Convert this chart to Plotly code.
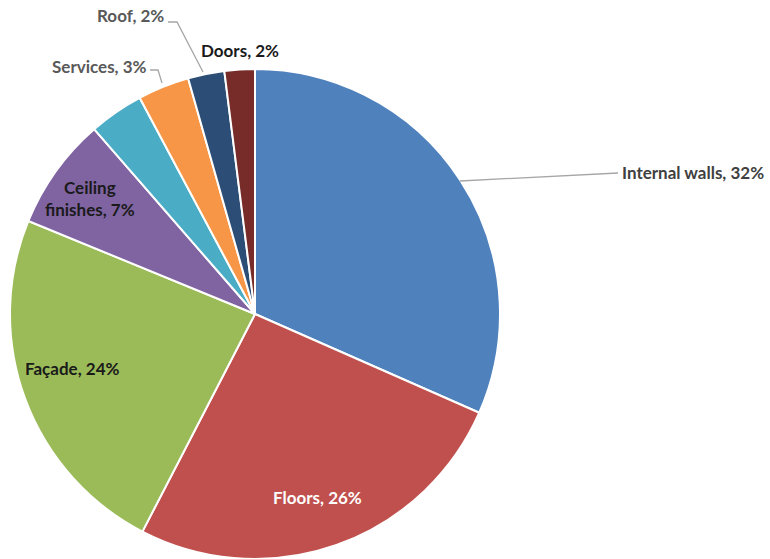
import plotly.graph_objects as go

categories = ["Internal walls", "Floors", "Façade", "Ceiling finishes", "Other", "Services", "Roof", "Doors"]
values = [31.6, 26.0, 23.6, 7.4, 3.6, 3.4, 2.4, 2.0]
label_pct = ["32%", "26%", "24%", "7%", "", "3%", "2%", "2%"]
colors = ["#4F81BD", "#C0504D", "#9BBB59", "#8064A2", "#4BACC6", "#F79646", "#2C4D75", "#772C2A"]

W, H = 770, 559

def px(x, y):
    return x / W, 1 - y / H

fig = go.Figure(go.Pie(
    labels=categories, values=values, sort=False, direction="clockwise", rotation=0,
    marker=dict(colors=colors, line=dict(color="white", width=2)),
    textinfo="none", hoverinfo="label+percent", showlegend=False,
    domain=dict(x=[10 / W, 500 / W], y=[0, 1 - 69 / H]),
))

font = "Lato, Carlito, 'Open Sans', sans-serif"
# label placements: (category index, x, y, xanchor, color, text override)
placements = [
    (0, 620, 172, "left", "#404040", None),
    (1, 317, 497, "center", "white", None),
    (2, 23, 368, "left", "#1a1a1a", None),
    (3, 90, 198, "center", "#1a1a1a", "Ceiling<br>finishes, 7%"),
    (5, 149, 66, "right", "#595959", None),
    (6, 166, 16, "right", "#595959", None),
    (7, 240, 50, "center", "#1a1a1a", None),
]
for idx, x, y, xa, col, txt in placements:
    t = txt if txt else f"{categories[idx]}, {label_pct[idx]}"
    ax, ay = px(x, y)
    fig.add_annotation(x=ax, y=ay, xref="paper", yref="paper", text=f"<b>{t}</b>",
                       showarrow=False, xanchor=xa, yanchor="middle",
                       font=dict(family=font, size=17, color=col))

leaders = [
    [(460, 181), (618, 173)],
    [(168, 22), (177, 22), (203, 72)],
    [(150, 70), (158, 70), (162, 83)],
]
for pts in leaders:
    path = "M " + " L ".join(f"{px(a, b)[0]:.5f},{px(a, b)[1]:.5f}" for a, b in pts)
    fig.add_shape(type="path", path=path, xref="paper", yref="paper",
                  line=dict(color="#A6A6A6", width=1.3))

fig.update_layout(width=W, height=H, margin=dict(l=0, r=0, t=0, b=0),
                  paper_bgcolor="white", plot_bgcolor="white")
fig.write_html("out.html")
